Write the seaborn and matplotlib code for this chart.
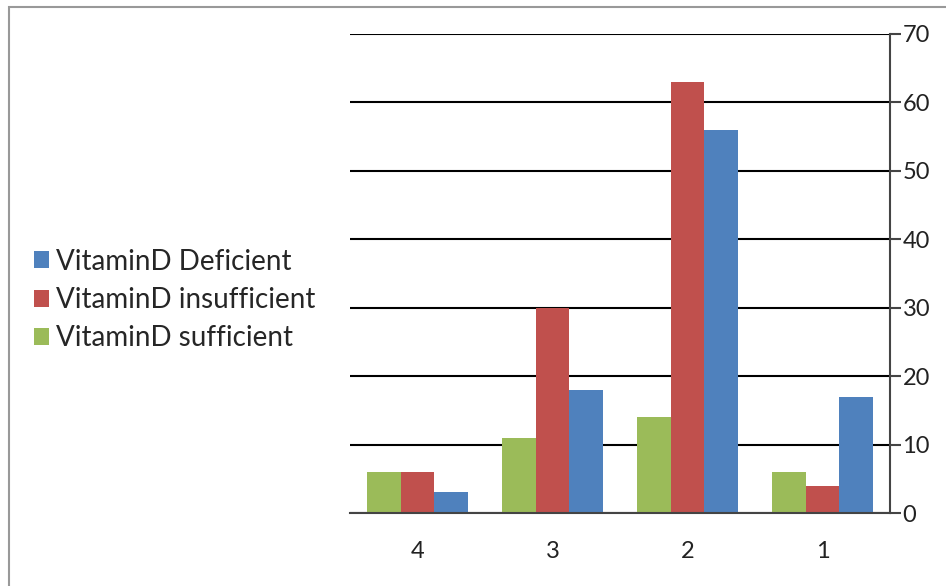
import matplotlib
matplotlib.use('Agg')
import matplotlib.pyplot as plt
import seaborn as sns
import pandas as pd
from matplotlib.patches import Rectangle

categories = ['4', '3', '2', '1']
series = ['VitaminD sufficient', 'VitaminD insufficient', 'VitaminD Deficient']
sufficient = [6, 11, 14, 6]
insufficient = [6, 30, 63, 4]
deficient = [3, 18, 56, 17]
colors = ['#9BBB59', '#C0504D', '#4F81BD']

rows = []
for name, vals in zip(series, [sufficient, insufficient, deficient]):
    for c, v in zip(categories, vals):
        rows.append({'cat': c, 'series': name, 'value': v})
df = pd.DataFrame(rows)

sns.set_style('white')
plt.rcParams['font.family'] = ['Lato', 'DejaVu Sans']

fig = plt.figure(figsize=(9.46, 5.86), dpi=100)
ax = fig.add_axes([350/946, 1 - 513/586, 540/946, 479/586])

sns.barplot(data=df, x='cat', y='value', hue='series', order=categories,
            hue_order=series, palette=colors, width=0.75, gap=0,
            saturation=1, ax=ax, legend=True, edgecolor='none')

ax.set_ylim(0, 70)
ax.set_xlim(-0.5, 3.5)
ax.set_yticks(range(0, 71, 10))
ax.yaxis.tick_right()
ax.yaxis.grid(True, color='black', linewidth=1.5)
ax.set_axisbelow(True)
ax.set_xlabel('')
ax.set_ylabel('')
for s in ['top', 'left']:
    ax.spines[s].set_visible(False)
ax.spines['right'].set_color('#444444')
ax.spines['bottom'].set_color('#444444')
ax.spines['right'].set_linewidth(1.5)
ax.spines['bottom'].set_linewidth(1.5)
ax.tick_params(axis='y', which='major', direction='out', length=8, width=1.5,
               color='#444444', labelsize=17, pad=1, labelcolor='#222222')
ax.tick_params(axis='x', which='major', length=0, labelsize=17, pad=20,
               labelcolor='#222222')
ax.set_xticks([-0.5, 0.5, 1.5, 2.5, 3.5], minor=True)
ax.tick_params(axis='x', which='minor', direction='out', length=8, width=1.5,
               color='#444444')

handles, labels = ax.get_legend_handles_labels()
ax.legend(handles[::-1], labels[::-1], loc='center left',
          bbox_to_anchor=(34/946, 1 - 300/586), bbox_transform=fig.transFigure,
          frameon=False, fontsize=20, handlelength=0.55, handleheight=0.55,
          handletextpad=0.25, labelspacing=0.45, borderaxespad=0, borderpad=0)

fig.patches.append(Rectangle((9/946, -0.1), 1.2, 1.1 - 7/586,
                             transform=fig.transFigure, fill=False,
                             edgecolor='#999999', linewidth=1.5))

fig.savefig('out.png', dpi=100)
